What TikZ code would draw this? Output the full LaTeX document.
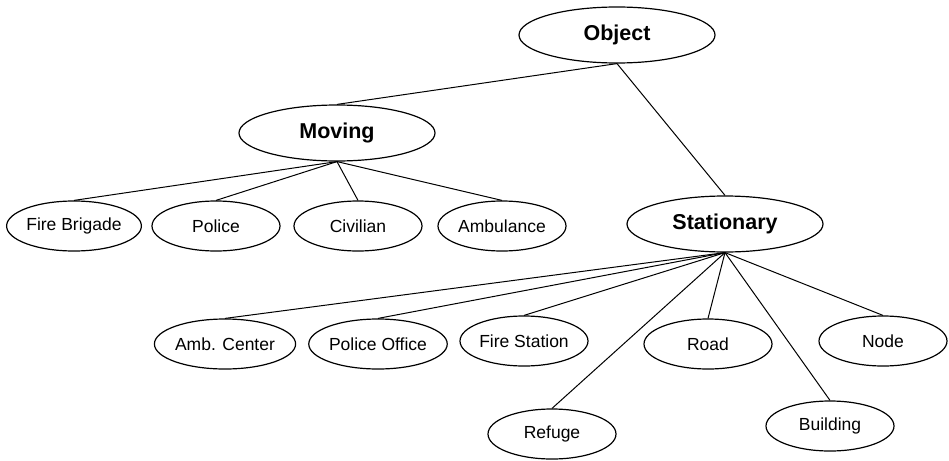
\documentclass[tikz,border=0pt]{standalone}
\usepackage{fontspec}
\setmainfont{Liberation Sans}
\usepackage{tikz}
\usetikzlibrary{shapes.geometric}

\begin{document}
\begin{tikzpicture}[x=1pt, y=-1pt,
    top/.style={ellipse, draw, line width=1.2pt, inner sep=0pt,
        minimum width=196pt, minimum height=56pt, font=\fontsize{21.5}{24}\selectfont\bfseries},
    leaf/.style={ellipse, draw, line width=1.2pt, inner sep=0pt,
        minimum width=128pt, minimum height=50pt, font=\fontsize{17.5}{20}\selectfont},
    edge/.style={line width=1pt}]
        \useasboundingbox (0, 0) rectangle (949, 460);

        \node[top] (obj) at (617, 35) {Object};
        \node[top] (mov) at (337, 133) {Moving};
        \node[top] (sta) at (725, 224) {Stationary};

        \node[leaf] (fbr) at (74, 226) {Fire Brigade};
        \node[leaf] (pol) at (216, 226) {Police};
        \node[leaf] (civ) at (358, 226) {Civilian};
        \node[leaf] (amb) at (502, 226) {Ambulance};

        \node[leaf] (amc) at (225, 344) {Amb. Center};
        \node[leaf] (pof) at (378, 344) {Police Office};
        \node[leaf] (fst) at (524, 341) {Fire Station};
        \node[leaf] (road) at (708, 344) {Road};
        \node[leaf] (nod) at (883, 341) {Node};
        \node[leaf] (ref) at (552, 434) {Refuge};
        \node[leaf] (bld) at (830, 426) {Building};

        \draw[edge] (obj.south) -- (mov.north);
        \draw[edge] (obj.south) -- (sta.north);

        \foreach \c in {fbr, pol, civ, amb}
            \draw[edge] (mov.south) -- (\c.north);

        \foreach \c in {amc, pof, fst, road, nod, ref, bld}
            \draw[edge] (sta.south) -- (\c.north);
\end{tikzpicture}
\end{document}
